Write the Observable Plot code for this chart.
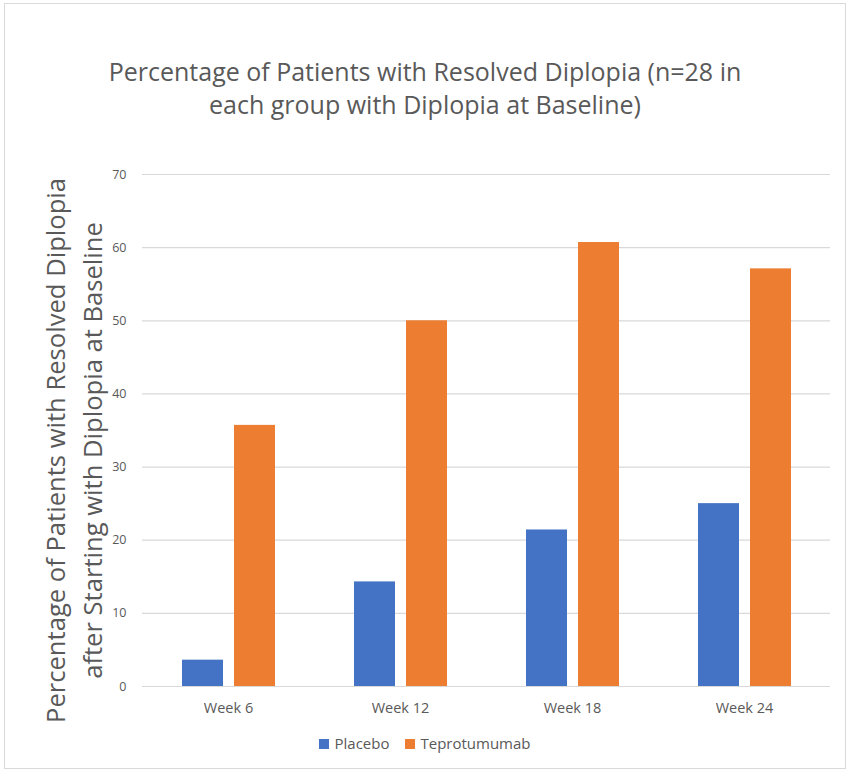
<!DOCTYPE html>
<html><head><meta charset="utf-8">
<script src="https://cdn.jsdelivr.net/npm/d3@7"></script>
<script src="https://cdn.jsdelivr.net/npm/@observablehq/plot@0.6"></script>
<style>
body{margin:0;background:#fff;font-family:"Open Sans",sans-serif;color:#595959;}
#frame{position:absolute;left:4px;top:3px;width:842px;height:766px;border:1.5px solid #d9d9d9;box-sizing:border-box;}
#title{position:absolute;top:55px;left:0;width:850px;text-align:center;font-size:25px;line-height:33px;color:#595959;}
#chart{position:absolute;left:0;top:150px;}
#legend{position:absolute;top:733px;left:0;width:850px;display:flex;justify-content:center;gap:16px;font-size:15px;color:#595959;}
#legend span.sw{display:inline-block;width:10px;height:10px;margin-right:5px;vertical-align:middle;position:relative;top:-1px;}
</style></head>
<body>
<div id="frame"></div>
<div id="title">Percentage of Patients with Resolved Diplopia (n=28 in<br>each group with Diplopia at Baseline)</div>
<div id="chart"></div>
<div id="legend"></div>
<script>
const weeks = ["Week 6", "Week 12", "Week 18", "Week 24"];
const seriesNames = ["Placebo", "Teprotumumab"];
const placebo = [3.6, 14.3, 21.4, 25.0];
const teprotumumab = [35.7, 50.0, 60.7, 57.1];
const colors = ["#4472C4", "#ED7D31"];
const yTicks = [0, 10, 20, 30, 40, 50, 60, 70];
const yLabel = "Percentage of Patients with Resolved Diplopia\nafter Starting with Diplopia at Baseline";

const data = [];
weeks.forEach((w, i) => {
  data.push({week: w, series: seriesNames[0], value: placebo[i]});
  data.push({week: w, series: seriesNames[1], value: teprotumumab[i]});
});

const chart = Plot.plot({
  width: 850,
  height: 570,
  marginLeft: 141,
  marginRight: 20,
  marginTop: 24,
  marginBottom: 34,
  style: {fontSize: "14.5px", color: "#595959", fontFamily: "'Open Sans',sans-serif", overflow: "visible"},
  fx: {domain: weeks, padding: 0, label: null, axis: "bottom", tickSize: 0, tickPadding: 16},
  x: {domain: seriesNames, paddingInner: 0.22, paddingOuter: 0.76, axis: null},
  y: {domain: [0, 70], axis: null},
  color: {domain: seriesNames, range: colors},
  marks: [
    Plot.gridY(yTicks, {stroke: "#d9d9d9", strokeOpacity: 1, strokeWidth: 1.2}),
    Plot.axisY(yTicks, {anchor: "left", tickSize: 0, tickPadding: 16, fontSize: 12.5, label: null}),
    Plot.text([yLabel], {fx: () => weeks[0], text: d => d, frameAnchor: "left", textAnchor: "middle", rotate: -90, dx: -71, dy: 20, fontSize: 25.6, lineHeight: 1.45, fill: "#595959"}),
    Plot.barY(data, {fx: "week", x: "series", y: "value", fill: "series"})
  ]
});
document.getElementById("chart").appendChild(chart);

const legend = document.getElementById("legend");
seriesNames.forEach((s, i) => {
  const item = document.createElement("div");
  item.innerHTML = `<span class="sw" style="background:${colors[i]}"></span>${s}`;
  legend.appendChild(item);
});
</script>
</body></html>
